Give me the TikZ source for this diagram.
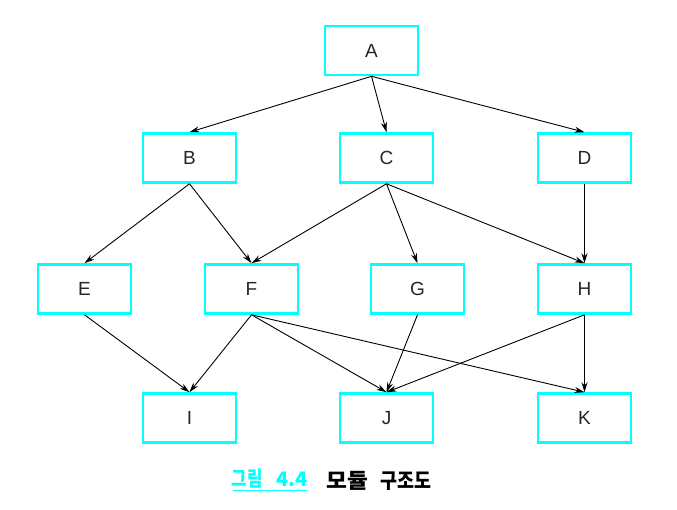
\documentclass[tikz,border=0pt]{standalone}
\usepackage{fontspec}
\setmainfont{Liberation Sans}
\newfontfamily\kofont{Noto Sans CJK KR}
\newfontfamily\konarrow[FakeStretch=0.8]{Noto Sans CJK KR}
\newfontfamily\komid[FakeStretch=0.88]{Noto Sans CJK KR}
\newfontfamily\kowide[FakeStretch=1.08]{Noto Sans CJK KR}
\usetikzlibrary{arrows.meta}
\definecolor{boxcyan}{RGB}{0,255,255}
\begin{document}
\begin{tikzpicture}[x=1pt,y=-1pt,
  module/.style={draw=boxcyan,line width=2.6pt,minimum width=93pt,minimum height=49pt,
    inner sep=0pt,font=\fontsize{19}{19}\selectfont,text=black!85},
  link/.style={line width=0.9pt,-{Stealth[length=10pt,width=6pt]}},
  captext/.style={anchor=base west,inner sep=0pt}]
\useasboundingbox (0,0) rectangle (677,510);
% modules
\node[module] (A) at (371.5,50.5) {A};
\node[module] (B) at (189.5,158) {B};
\node[module] (C) at (386.5,158) {C};
\node[module] (D) at (584.5,158) {D};
\node[module] (E) at (84.5,289) {E};
\node[module] (F) at (251.5,289) {F};
\node[module] (G) at (417.5,289) {G};
\node[module] (H) at (584.5,289) {H};
\node[module] (I) at (189.5,418) {I};
\node[module] (J) at (386.5,418) {J};
\node[module] (K) at (584.5,418) {K};
% calls between modules
\foreach \s/\t in {A/B,A/C,A/D,B/E,B/F,C/F,C/G,C/H,D/H,E/I,F/I,F/J,F/K,G/J,H/J,H/K}
  \draw[link] (\s.south) -- (\t.north);
% caption
\node[captext,text=boxcyan,font=\konarrow\bfseries\fontsize{21}{21}\selectfont] (cap1) at (231.5,486.5) {그림};
\node[captext,text=boxcyan,font=\kofont\bfseries\fontsize{20}{20}\selectfont] (cap2) at (276.5,486.5) {4.4};
\coordinate (ul1) at (233,490.5);
\coordinate (ul2) at (307,490.5);
\draw[boxcyan,line width=1.3pt] (ul1) -- (ul2);
\node[captext,font=\kowide\bfseries\fontsize{21}{21}\selectfont] (title1) at (326,488) {모듈};
\node[captext,font=\komid\bfseries\fontsize{21}{21}\selectfont] (title2) at (380,488) {구조도};
\end{tikzpicture}
\end{document}
